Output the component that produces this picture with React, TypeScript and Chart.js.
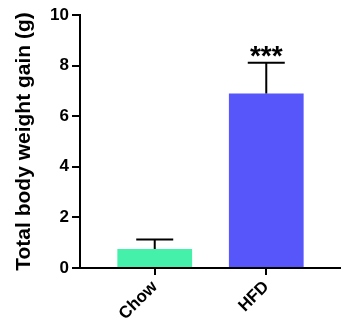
import React, { useEffect, useRef } from 'react';
import { Chart, registerables } from 'chart.js';

Chart.register(...registerables);

const categories = ['Chow', 'HFD'];
const meanGain = [0.75, 6.9];
const semGain = [0.38, 1.21];
const significance = ['', '***'];
const barColors = ['#44F0AA', '#5656FA'];
const yTicks = [0, 2, 4, 6, 8, 10];

const FONT = '"Liberation Sans", Arial, sans-serif';

const errorBarPlugin = {
  id: 'errorBars',
  afterDatasetsDraw(chart: any) {
    const { ctx } = chart;
    const x = chart.scales.x;
    const y = chart.scales.y;
    ctx.save();
    ctx.strokeStyle = '#000';
    ctx.fillStyle = '#000';
    ctx.lineWidth = 2;
    meanGain.forEach((m, i) => {
      const px = x.getPixelForValue(i);
      const y0 = y.getPixelForValue(m);
      const y1 = y.getPixelForValue(m + semGain[i]);
      ctx.beginPath();
      ctx.moveTo(px, y0);
      ctx.lineTo(px, y1);
      ctx.moveTo(px - 18.5, y1);
      ctx.lineTo(px + 18.5, y1);
      ctx.stroke();
      if (significance[i]) {
        ctx.font = `bold 28px ${FONT}`;
        ctx.textAlign = 'center';
        ctx.textBaseline = 'alphabetic';
        ctx.fillText(significance[i], px, y1 + 2);
      }
    });
    ctx.restore();
  },
};

export default function App() {
  const ref = useRef<HTMLCanvasElement>(null);
  useEffect(() => {
    document.body.style.margin = '0';
    const chart = new Chart(ref.current as HTMLCanvasElement, {
      type: 'bar',
      data: {
        datasets: [
          {
            data: meanGain.map((v, i) => ({ x: i, y: v })),
            backgroundColor: barColors,
            borderWidth: 0,
            barPercentage: 0.67,
            categoryPercentage: 1,
          },
        ],
      },
      options: {
        responsive: false,
        animation: false,
        layout: { padding: { top: 15, left: 0, right: 0, bottom: 0 } },
        plugins: { legend: { display: false }, tooltip: { enabled: false } },
        scales: {
          x: {
            type: 'linear',
            offset: false,
            min: -0.67,
            max: 1.67,
            afterBuildTicks: (s: any) => {
              s.ticks = categories.map((_, i) => ({ value: i }));
            },
            ticks: {
              callback: (v: any) => categories[v as number],
              autoSkip: false,
              maxRotation: 45,
              minRotation: 45,
              padding: 2,
              color: '#000',
              font: { family: FONT, size: 17, weight: 'bold' },
            },
            grid: { offset: false, drawOnChartArea: false, drawTicks: true, tickLength: 7, color: '#000', lineWidth: 2 },
            border: { display: true, color: '#000', width: 2 },
            afterFit: (s: any) => {
              s.height = 65;
              s.paddingLeft = 0;
              s.paddingRight = 0;
            },
          },
          y: {
            min: 0,
            max: 10,
            afterBuildTicks: (s: any) => {
              s.ticks = yTicks.map((v) => ({ value: v }));
            },
            ticks: {
              padding: 3,
              color: '#000',
              font: { family: FONT, size: 17, weight: 'bold' },
            },
            grid: { drawOnChartArea: false, drawTicks: true, tickLength: 8, color: '#000', lineWidth: 2 },
            border: { display: true, color: '#000', width: 2 },
            title: {
              display: true,
              text: 'Total body weight gain (g)',
              color: '#000',
              font: { family: FONT, size: 21, weight: 'bold' },
              padding: { top: 12, bottom: 0 },
            },
            afterFit: (s: any) => {
              s.width = 80;
              s.paddingTop = 0;
              s.paddingBottom = 0;
            },
          },
        },
      },
      plugins: [errorBarPlugin],
    });
    return () => chart.destroy();
  }, []);
  return (
    <div style={{ position: 'absolute', left: 0, top: 0, width: 341, height: 333 }}>
      <canvas ref={ref} width={341} height={333} />
    </div>
  );
}
